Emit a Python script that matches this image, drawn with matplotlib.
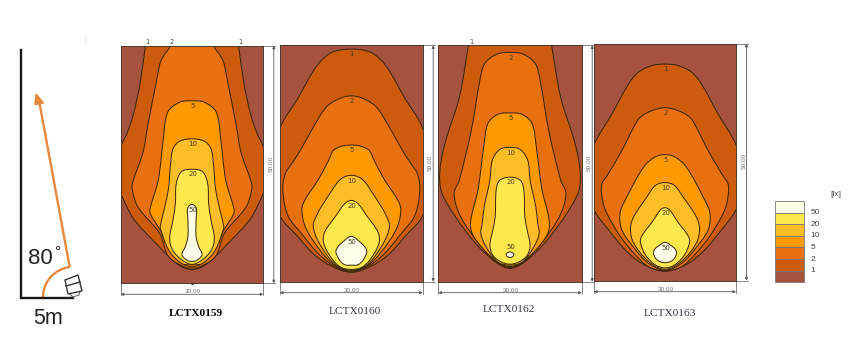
import numpy as np
import matplotlib
matplotlib.use("Agg")
import matplotlib.pyplot as plt
from matplotlib.path import Path
from matplotlib.patches import PathPatch, Arc, Polygon, Rectangle

# (distance along road in m, half width in m), from far end to lamp
c159_1 = [(52, 9.5), (50, 9.8), (41.6, 11), (35.3, 12.4), (31.5, 13.7), (29, 14.9), (23.5, 16.3), (19, 15), (16.5, 13.9), (13.3, 12.1), (8.4, 7.6), (4.9, 4.1), (3.4, 2), (2.9, 0)]
c159_2 = [(52, 3.9), (50, 4.5), (46.9, 6.5), (42.4, 7.5), (33.2, 9.3), (27.6, 10.3), (21.5, 12.4), (20, 12.6), (16.1, 11.4), (10.5, 6.8), (5.6, 4.9), (3.4, 1.5), (3.2, 0)]
c159_5 = [(38.4, 0), (38.1, 2.6), (36, 5.1), (29.7, 6.1), (21.7, 7.1), (15.8, 8.8), (14.7, 8.8), (11.2, 6.7), (7, 4.6), (4.2, 2.1), (3.5, 0)]
c159_10 = [(30.4, 0), (29.9, 2.6), (28.3, 4), (25.2, 4.5), (19.6, 5), (11.9, 6.7), (11.6, 6.7), (7, 4.9), (4.2, 2.2), (3.9, 0)]
c159_20 = [(24, 0), (23.5, 2.2), (21, 3.3), (16.8, 3.5), (13.3, 4), (9.5, 4.7), (7, 4.1), (4.9, 2.1), (4, 0)]
c159_50 = [(16.6, 0), (15.8, 0.9), (13.3, 0.85), (9.8, 0.85), (7.7, 1.4), (6, 2.1), (4.8, 0.9), (4.6, 0)]

c160_1 = [(49.2, 0), (48.6, 3.9), (46.8, 6.3), (44.4, 8.1), (38.7, 11.3), (32.7, 14.9), (23, 17), (14, 15), (9.5, 11.2), (6, 8.1), (3.5, 4.6), (2, 0)]
c160_2 = [(39.3, 0), (38.9, 2.1), (37.3, 4.9), (34.9, 6.7), (27.5, 10.9), (25.3, 12.3), (22.8, 13.9), (19.3, 14.4), (13.9, 13.3), (10.2, 10.5), (6, 7), (3.5, 3.9), (2.1, 0)]
c160_5 = [(28.9, 0), (28, 3.5), (25.4, 4.9), (21.5, 7), (17.2, 9.8), (15.1, 10.4), (11.2, 9.5), (6.3, 6.3), (3.5, 3.5), (2.2, 0)]
c160_10 = [(22.5, 0), (21.8, 2.1), (19.6, 3.9), (12.6, 7.9), (9.5, 7.4), (5.3, 4.9), (3.2, 2.8), (2.4, 0)]
c160_20 = [(17.2, 0), (16.5, 1.4), (14, 3.2), (10.5, 5.6), (8.1, 5.8), (4.6, 3.9), (3, 2.1), (2.6, 0)]
c160_50 = [(9.6, 0), (9.1, 1), (6.7, 3.2), (4.6, 2.5), (3.6, 1.4), (3.5, 0)]

c162_1 = [(52, 8.4), (50, 8.7), (39, 10.6), (30, 13.4), (25, 14.5), (21.4, 14.7), (18.6, 14.2), (13.7, 11.4), (8.1, 7.2), (4.6, 3.6), (3.2, 1.5), (2.8, 0)]
c162_2 = [(48.5, 0), (48.1, 2.8), (46.1, 5.3), (42.6, 6.3), (32, 8.1), (21.5, 10.6), (18.6, 11.7), (13.7, 10.3), (8.1, 6.5), (4.6, 3.3), (3, 0)]
c162_5 = [(35.7, 0), (35.4, 2.5), (33.5, 4.6), (28.5, 5.5), (19.4, 6.7), (13, 8.2), (10.2, 7.9), (6.7, 5.4), (3.9, 2.2), (3.2, 0)]
c162_10 = [(28.4, 0), (28, 2.1), (25.7, 3.7), (21.5, 4.2), (15.8, 5.4), (12.3, 5.8), (10.2, 6.1), (7.4, 5), (4.2, 2.6), (3.5, 0)]
c162_20 = [(22.1, 0), (21.4, 2.2), (19.3, 2.9), (13.7, 3.1), (10.9, 3.6), (7.7, 4.2), (5.6, 3.6), (4.2, 1.9), (3.7, 0)]
c162_50 = [(6.3, 0), (5.7, 0.8), (5.1, 0)]

c163_1 = [(45.7, 0), (45.4, 2.7), (44, 5.6), (41.5, 7.7), (35.2, 11.2), (28.9, 14.9), (22, 17), (15, 15), (10.7, 11.9), (6.5, 8.4), (3.6, 4.8), (2, 0)]
c163_2 = [(36.5, 0), (35.9, 2.7), (34.5, 5.2), (32.4, 6.6), (27.3, 9.2), (22.2, 12.2), (20.5, 13.3), (18.4, 13.4), (14.9, 12.6), (9.3, 9.4), (5.4, 6.2), (2.9, 3.4), (2.1, 0)]
c163_5 = [(26.6, 0), (26.1, 2.1), (24, 4.5), (17, 8.4), (14.2, 9.5), (10.7, 9.1), (6.5, 6.2), (3.6, 3.4), (2.2, 0)]
c163_10 = [(20.7, 0), (20.1, 2), (17.7, 3.8), (13.5, 6.6), (11, 7.3), (7.9, 6.6), (4, 3.4), (2.4, 0)]
c163_20 = [(15.4, 0), (14.9, 1), (12.4, 2.7), (9.6, 4.8), (8.2, 5.2), (5.4, 4.1), (3.3, 2), (2.7, 0)]
c163_50 = [(8.1, 0), (7.6, 1), (6.2, 2.4), (4.4, 1.7), (3.8, 0)]

levels = [1, 2, 5, 10, 20, 50]
level_colors = ["#CC5C0C", "#E8700F", "#FF9900", "#FFBE28", "#FFE84D", "#FFFFE8"]
base_color = "#A5533E"
names = ["LCTX0159", "LCTX0160", "LCTX0162", "LCTX0163"]
contours = [
    [c159_1, c159_2, c159_5, c159_10, c159_20, c159_50],
    [c160_1, c160_2, c160_5, c160_10, c160_20, c160_50],
    [c162_1, c162_2, c162_5, c162_10, c162_20, c162_50],
    [c163_1, c163_2, c163_5, c163_10, c163_20, c163_50],
]
boxes = [(120.7, 45.7, 263.3, 283.3), (280, 45.3, 422.7, 281.7), (438.3, 45.3, 581.7, 281.7), (594, 43.7, 736, 280.7)]
title_pos = [(196, 314), (355, 312), (509, 310), (670, 313)]

W, H = 856, 357
fig = plt.figure(figsize=(W / 100, H / 100), dpi=100)
bg = fig.add_axes([0, 0, 1, 1])
bg.set_xlim(0, W)
bg.set_ylim(H, 0)
bg.axis("off")


def closed_path(profile):
    # right side top to bottom, then mirrored back up the left side
    pts = [(hw, y) for y, hw in profile]
    if profile[0][1] != 0:
        pts = pts + [(-hw, y) for y, hw in profile[-2::-1]]
    else:
        pts = pts + [(-hw, y) for y, hw in profile[-2:0:-1]]
    pts = np.array(pts, dtype=float)
    n = len(pts)
    verts = [pts[0]]
    codes = [Path.MOVETO]
    for i in range(n):
        p0, p1 = pts[i], pts[(i + 1) % n]
        t0 = pts[(i + 1) % n] - pts[i - 1]
        t1 = pts[(i + 2) % n] - pts[i]
        d = np.hypot(*(p1 - p0))
        verts += [p0 + t0 / np.hypot(*t0) * d / 3, p1 - t1 / np.hypot(*t1) * d / 3, p1]
        codes += [Path.CURVE4] * 3
    return Path(verts, codes)


for name, cs, box, tp in zip(names, contours, boxes, title_pos):
    x0, y0, x1, y1 = box
    ax = fig.add_axes([x0 / W, 1 - y1 / H, (x1 - x0) / W, (y1 - y0) / H])
    ax.set_xlim(-15, 15)
    ax.set_ylim(0, 50)
    ax.set_facecolor(base_color)
    ax.set_xticks([])
    ax.set_yticks([])
    for s in ax.spines.values():
        s.set_linewidth(0.7)
        s.set_color("#4a3a30")
    for lev, col, prof in zip(levels, level_colors, cs):
        ax.add_patch(PathPatch(closed_path(prof), fc=col, ec="#33230c", lw=0.7))
        if prof[0][1] == 0:
            # the tiny 50 lobe of LCTX0162 has its label above it
            ly = prof[0][0] + 1 if prof[0][0] < 7 else prof[0][0] - 1.1
            ax.text(0.1, ly, str(lev), fontsize=5, color="#4a3a20", ha="center", va="center")

    # dimension lines
    yd = y1 + 11
    xd = x1 + 10.5
    dim = "#555555"
    bg.annotate("", (x0, yd), (x1, yd), arrowprops=dict(arrowstyle="<|-|>", color=dim, lw=0.6, mutation_scale=4, shrinkA=0, shrinkB=0))
    bg.annotate("", (xd, y0), (xd, y1), arrowprops=dict(arrowstyle="<|-|>", color=dim, lw=0.6, mutation_scale=4, shrinkA=0, shrinkB=0))
    bg.plot([x0, x0], [y1, yd + 1], color=dim, lw=0.5)
    bg.plot([x1, x1], [y1, yd + 1], color=dim, lw=0.5)
    bg.plot([x1, xd + 1.5], [y0, y0], color=dim, lw=0.5)
    bg.plot([x1, xd + 1.5], [y1, y1], color=dim, lw=0.5)
    bg.plot([(x0 + x1) / 2], [y1 - 0.5], marker="s", ms=1, color="#222222")
    bg.text((x0 + x1) / 2 + 1, yd - 2.5, "30.00", fontsize=4.6, color="#777777", ha="center", va="center", family="Liberation Sans")
    bg.text(xd - 2.5, (y0 + y1) / 2 - 1, "50.00", fontsize=4.6, color="#777777", ha="center", va="center", rotation=90, family="Liberation Sans")
    bg.text(tp[0], tp[1], name, fontsize=8.2, color="black" if name == "LCTX0159" else "#333344", ha="center", va="center",
            family="Liberation Serif", fontweight="bold" if name == "LCTX0159" else "normal")

# contour labels on the clipped tops and edges
for x, y, s in [(147, 42.5, "1"), (171.5, 42.5, "2"), (240, 42.5, "1"), (471, 41.5, "1"), (122, 189, "1"), (281, 211, "1")]:
    bg.text(x, y, s, fontsize=4.8, color="#444444", ha="center", va="center", zorder=5)

# mounting sketch on the left
bg.plot([21, 21, 73], [50, 297.5, 297.5], color="#1a1a1a", lw=1.7, solid_joinstyle="miter")
orange = "#E8883C"
bg.plot([69.5, 39.5], [266, 103], color=orange, lw=1.7)
bg.add_patch(Polygon([[36, 94], [43.5, 103], [35, 104.5]], closed=True, fc=orange, ec=orange))
bg.add_patch(Arc((73, 297), 60, 60, theta1=180, theta2=263, color=orange, lw=1.7))
bg.add_patch(Polygon([[65, 280], [78, 275], [82, 291], [68, 294]], closed=True, fc="white", ec="#333333", lw=1))
bg.plot([66, 80], [286, 282], color="#333333", lw=1)
bg.plot([70, 73, 79, 80], [294, 297, 295, 291], color="#666666", lw=0.8)
bg.text(40.5, 259, "80", fontsize=16, color="#222222", ha="center", va="center", family="Liberation Sans")
bg.text(57, 252, "°", fontsize=11, color="#222222", ha="center", va="center", family="Liberation Sans")
bg.text(48, 319, "5m", fontsize=15.5, color="#222222", ha="center", va="center", family="Liberation Sans")
bg.plot([85, 85], [36, 43], color="#dddddd", lw=0.6)

# colour key
key_colors = level_colors[::-1] + [base_color]
key_labels = ["50", "20", "10", "5", "2", "1"]
x0, x1, top, step = 775.3, 804.3, 201, 11.6
for i, col in enumerate(key_colors):
    bg.add_patch(Rectangle((x0, top + i * step), x1 - x0, step, fc=col, ec="#777777", lw=0.6))
for i, lab in enumerate(key_labels):
    bg.text(810.7, 212.7 + i * step, lab, fontsize=6, color="#444444", ha="left", va="center", family="Liberation Sans")
bg.text(836, 194, "[lx]", fontsize=6, color="#444444", ha="center", va="center", family="Liberation Sans")

fig.savefig("out.png", dpi=100)
